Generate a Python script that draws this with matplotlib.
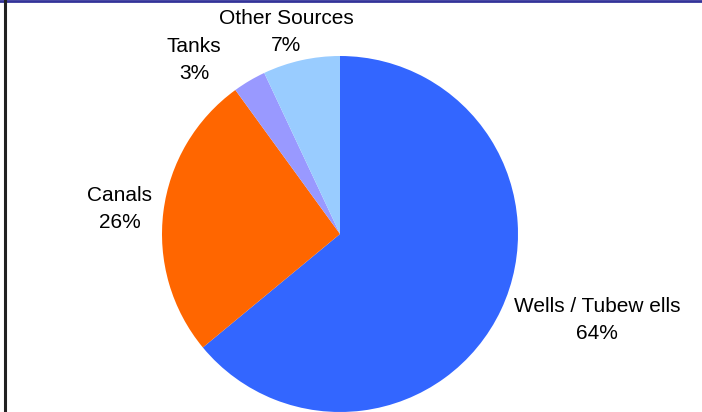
import matplotlib
matplotlib.use("Agg")
import matplotlib.pyplot as plt
from matplotlib.lines import Line2D

categories = ["Wells / Tubew ells", "Canals", "Tanks", "Other Sources"]
shares = [64, 26, 3, 7]
colors = ["#3366FF", "#FF6600", "#9999FF", "#99CCFF"]
label_pos = [(1.444, -0.483), (-1.236, 0.140), (-0.820, 0.978), (-0.303, 1.135)]

plt.rcParams['font.family'] = ['Liberation Sans', 'DejaVu Sans']

fig = plt.figure(figsize=(7.02, 4.12), dpi=100)
ax = fig.add_axes([0, 0, 1, 1])
ax.pie(shares, colors=colors, startangle=90, counterclock=False,
       radius=1.0, center=(0, 0), wedgeprops=dict(linewidth=0))
ax.set_aspect('auto')
ax.set_xlim(-340/178, (702-340)/178)
ax.set_ylim(-(412-234)/178, 234/178)
ax.axis('off')

for cat, val, (x, y) in zip(categories, shares, label_pos):
    ax.text(x, y, f"{cat}\n{val}%", ha='center', va='center', fontsize=15,
            linespacing=1.48, color='black')

fig.add_artist(Line2D([0, 1], [1 - 1/412, 1 - 1/412], transform=fig.transFigure,
                      color='#333399', linewidth=2))
fig.add_artist(Line2D([5/702, 5/702], [0, 1], transform=fig.transFigure,
                      color='#222222', linewidth=2.2))

fig.savefig("out.png", dpi=100)
